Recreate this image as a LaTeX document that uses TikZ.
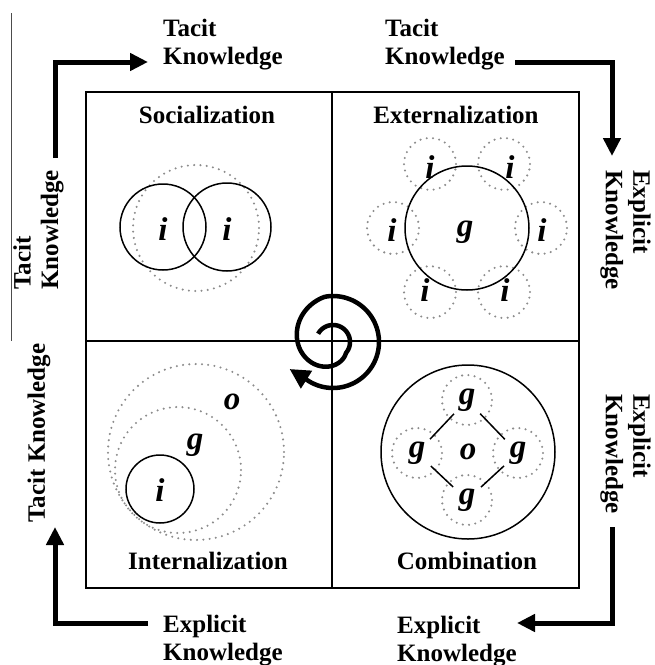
\documentclass[tikz,border=0pt]{standalone}
\usepackage{fontspec}
\setmainfont{Liberation Serif}
\usetikzlibrary{arrows.meta,calc}
\begin{document}
\begin{tikzpicture}[x=1pt,y=-1pt,
  lbl/.style={font=\bfseries\fontsize{25}{27.5}\selectfont, inner sep=0pt, align=left},
  ttl/.style={font=\bfseries\fontsize{25}{27}\selectfont, inner sep=0pt, anchor=base},
  kl/.style={font=\bfseries\itshape\fontsize{33}{33}\selectfont, inner sep=0pt},
  dotc/.style={draw=black!45, line width=2.3pt, line cap=round, dash pattern=on 0pt off 6.3pt},
  solc/.style={draw=black, line width=1.5pt},
  frame/.style={line width=1.4pt},
  flow/.style={line width=5pt, -{Triangle[length=18pt,width=17pt]}},
  link/.style={line width=1.5pt, shorten <=19pt, shorten >=19pt}
]
\useasboundingbox (0,0) rectangle (655,665);

% thin left line
\coordinate (t1) at (11,13);
\coordinate (t2) at (11,341);
\draw[line width=0.8pt, black!70] (t1) -- (t2);

% frame
\node[draw, frame, minimum width=493pt, minimum height=496pt, inner sep=0pt] (box) at (332.5,340) {};
\coordinate (mt) at (332,92); \coordinate (mb) at (332,588);
\coordinate (ml) at (86,341); \coordinate (mr) at (579,341);
\draw[frame] (mt) -- (mb);
\draw[frame] (ml) -- (mr);

% titles
\node[ttl] (soc) at (207,123) {Socialization};
\node[ttl] (ext) at (456,123) {Externalization};
\node[ttl] (int) at (208,569) {Internalization};
\node[ttl] (com) at (467,569) {Combination};

% outer labels
\node[lbl, anchor=north west] (tl) at (163,19) {Tacit\\Knowledge};
\node[lbl, anchor=north west] (tr) at (385,19) {Tacit\\Knowledge};
\node[lbl, anchor=north west, rotate=-90] (ru) at (651,170) {Explicit\\Knowledge};
\node[lbl, anchor=north west, rotate=-90] (rl) at (651,394) {Explicit\\Knowledge};
\node[lbl, anchor=north west, rotate=90] (lu) at (13,290) {Tacit\\Knowledge};
\node[lbl, anchor=base, rotate=90] (ll) at (45,433) {Tacit Knowledge};
\node[lbl, anchor=north west] (bl) at (163,615) {Explicit\\Knowledge};
\node[lbl, anchor=north west] (br) at (397,616) {Explicit\\Knowledge};

% corner arrows
\coordinate (a1s) at (55,158); \coordinate (a1c) at (55,62); \coordinate (a1e) at (148,62);
\draw[flow] (a1s) -- (a1c) -- (a1e);
\coordinate (a2s) at (515,62); \coordinate (a2c) at (612,62); \coordinate (a2e) at (612,156);
\draw[flow] (a2s) -- (a2c) -- (a2e);
\coordinate (a3s) at (612,527); \coordinate (a3c) at (612,623); \coordinate (a3e) at (517,623);
\draw[flow] (a3s) -- (a3c) -- (a3e);
\coordinate (a4s) at (148,623); \coordinate (a4c) at (55,623); \coordinate (a4e) at (55,527);
\draw[flow] (a4s) -- (a4c) -- (a4e);

% spiral
\draw[line width=4.5pt, line join=round, -{Triangle[length=20pt,width=20pt]}]
  plot[domain=209:842, samples=160, variable=\t]
  ({333+(17+29*min(1,max(0,(\t-400)/220)))*cos(\t)},
   {342+(17+29*min(1,max(0,(\t-400)/220)))*sin(\t)})
  -- ++(-19,-12);

% Socialization
\draw[dotc] (196,228) circle[radius=63pt];
\draw[solc] (163,227) circle[radius=43pt];
\draw[solc] (227,227) circle[radius=44pt];
\node[kl] (si1) at (163,229) {i};
\node[kl] (si2) at (227,229) {i};

% Externalization
\coordinate (ec) at (467,228);
\foreach \a in {0,60,120,180,240,300}{
  \draw[dotc] ($(ec)+(\a:74pt)$) circle[radius=26pt];
}
\draw[solc] (ec) circle[radius=62pt];
\node[kl] (eg) at (465,232) {g};
\node[kl] (ei1) at (430,167) {i};
\node[kl] (ei2) at (510,167) {i};
\node[kl] (ei3) at (392,230) {i};
\node[kl] (ei4) at (542,230) {i};
\node[kl] (ei5) at (425,290) {i};
\node[kl] (ei6) at (505,290) {i};

% Internalization
\draw[dotc] (196,452) circle[radius=88pt];
\draw[dotc] (178,470) circle[radius=63pt];
\draw[solc] (160,489) circle[radius=34pt];
\node[kl] (ii) at (160,490) {i};
\node[kl] (ig) at (195,445) {g};
\node[kl] (io) at (232,402) {o};

% Combination
\draw[solc] (468,452) circle[radius=87pt];
\draw[dotc] (467,400) circle[radius=25pt];
\draw[dotc] (417,453) circle[radius=25pt];
\draw[dotc] (518,453) circle[radius=25pt];
\draw[dotc] (467,500) circle[radius=25pt];
\node[kl] (cg1) at (467,400) {g};
\node[kl] (cg2) at (417,453) {g};
\node[kl] (cg3) at (518,453) {g};
\node[kl] (cg4) at (467,500) {g};
\node[kl] (co) at (468,452) {o};
\draw[link] (cg1.center) -- (cg2.center);
\draw[link] (cg1.center) -- (cg3.center);
\draw[link] (cg2.center) -- (cg4.center);
\draw[link] (cg3.center) -- (cg4.center);
\end{tikzpicture}
\end{document}
